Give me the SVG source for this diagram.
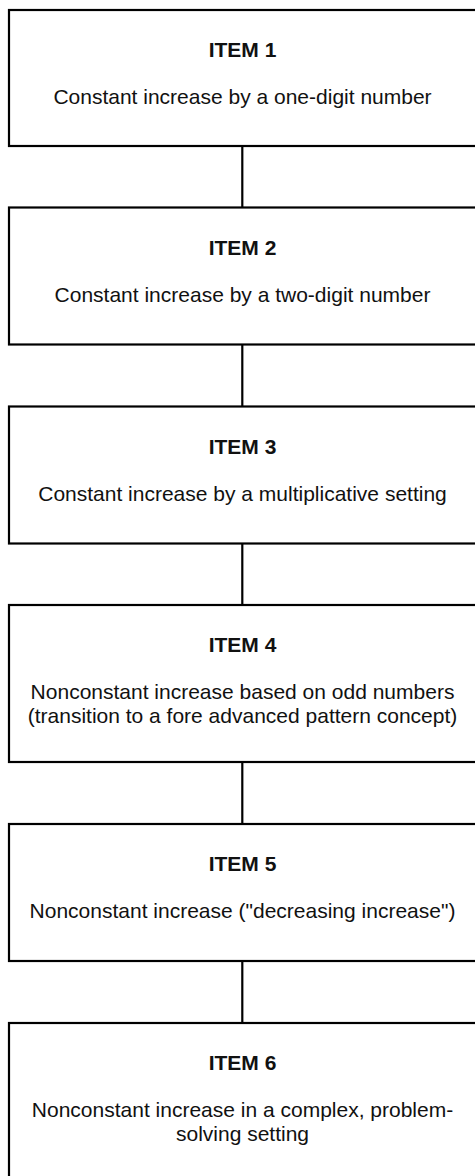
<svg xmlns="http://www.w3.org/2000/svg" width="475" height="1176" viewBox="0 0 475 1176">
  <style>
    .box { fill: #ffffff; stroke: #000000; stroke-width: 2.2; }
    .link { stroke: #000000; stroke-width: 2.2; fill: none; }
    text { font-family: "Liberation Sans", Arial, Helvetica, sans-serif; font-size: 21px; fill: #111111; text-anchor: middle; }
    .title { font-weight: bold; }
  </style>
  <rect x="0" y="0" width="475" height="1176" fill="#ffffff"/>

  <!-- vertical connectors between consecutive items -->
  <g id="connectors">
    <line class="link" x1="242.3" y1="146" x2="242.3" y2="207.5"/>
    <line class="link" x1="242.3" y1="344.5" x2="242.3" y2="406.5"/>
    <line class="link" x1="242.3" y1="543.5" x2="242.3" y2="605"/>
    <line class="link" x1="242.3" y1="762" x2="242.3" y2="824"/>
    <line class="link" x1="242.3" y1="961" x2="242.3" y2="1023"/>
  </g>

  <g id="item1">
    <rect class="box" x="9" y="10" width="468" height="136"/>
    <text class="title" x="242.5" y="57">ITEM 1</text>
    <text x="242.5" y="104">Constant increase by a one-digit number</text>
  </g>

  <g id="item2">
    <rect class="box" x="9" y="207.5" width="468" height="137"/>
    <text class="title" x="242.5" y="254.5">ITEM 2</text>
    <text x="242.5" y="301.5">Constant increase by a two-digit number</text>
  </g>

  <g id="item3">
    <rect class="box" x="9" y="406.5" width="468" height="137"/>
    <text class="title" x="242.5" y="453.5">ITEM 3</text>
    <text x="242.5" y="500.5">Constant increase by a multiplicative setting</text>
  </g>

  <g id="item4">
    <rect class="box" x="9" y="605" width="468" height="157"/>
    <text class="title" x="242.5" y="652">ITEM 4</text>
    <text x="242.5" y="699.3">Nonconstant increase based on odd numbers</text>
    <text x="242.5" y="723.3">(transition to a fore advanced pattern concept)</text>
  </g>

  <g id="item5">
    <rect class="box" x="9" y="824" width="468" height="137"/>
    <text class="title" x="242.5" y="871">ITEM 5</text>
    <text x="242.5" y="918">Nonconstant increase ("decreasing increase")</text>
  </g>

  <g id="item6">
    <rect class="box" x="9" y="1023" width="468" height="160"/>
    <text class="title" x="242.5" y="1069.5">ITEM 6</text>
    <text x="242.5" y="1117">Nonconstant increase in a complex, problem-</text>
    <text x="242.5" y="1141">solving setting</text>
  </g>
</svg>
